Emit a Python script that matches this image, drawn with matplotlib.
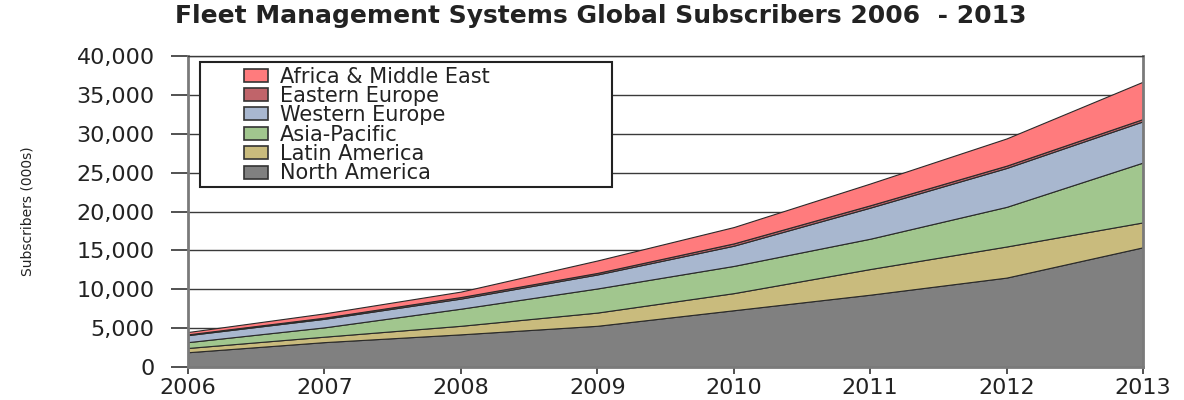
import matplotlib.pyplot as plt
import matplotlib.ticker as mticker
from matplotlib.patches import Rectangle
import numpy as np

years = [2006, 2007, 2008, 2009, 2010, 2011, 2012, 2013]

# subscribers in thousands
north_america = [1900, 3200, 4200, 5300, 7300, 9300, 11500, 15400]
latin_america = [550, 700, 1100, 1700, 2200, 3300, 4000, 3200]
asia_pacific = [750, 1200, 2200, 3100, 3500, 3900, 5100, 7700]
western_europe = [900, 1100, 1300, 1800, 2600, 4000, 5000, 5300]
eastern_europe = [100, 150, 200, 200, 300, 300, 300, 300]
africa_me = [300, 550, 700, 1600, 2100, 2800, 3500, 4800]

labels = ['North America', 'Latin America', 'Asia-Pacific',
          'Western Europe', 'Eastern Europe', 'Africa & Middle East']
colors = ['#808080', '#c9bb7d', '#a1c68e', '#a8b7cf', '#c0646a', '#ff7b7d']

plt.rcParams['font.family'] = ['DejaVu Sans']

fig = plt.figure(figsize=(11.84, 4.0), dpi=100)
ax = fig.add_axes([0.1588, 0.0825, 0.8066, 0.7775])

ax.yaxis.grid(True, color='#3a3a3a', linewidth=1.0)
ax.set_axisbelow(True)

polys = ax.stackplot(years, north_america, latin_america, asia_pacific,
                     western_europe, eastern_europe, africa_me,
                     colors=colors, labels=labels,
                     edgecolor='#2a2a2a', linewidth=0.8)

ax.set_xlim(2006, 2013)
ax.set_ylim(0, 40000)
ax.set_xticks(years)
ax.set_yticks(np.arange(0, 40001, 5000))
ax.yaxis.set_major_formatter(mticker.FuncFormatter(lambda v, p: '{:,.0f}'.format(v)))

ax.tick_params(axis='y', labelsize=16, length=12, width=1.2, color='#333333',
               pad=12, labelcolor='#222222')
ax.tick_params(axis='x', labelsize=16, length=5, width=1.2, color='#333333',
               pad=3, labelcolor='#222222')

for side in ['left', 'bottom', 'right']:
    ax.spines[side].set_color('#7a7a7a')
    ax.spines[side].set_linewidth(2)
ax.spines['top'].set_color('#3a3a3a')
ax.spines['top'].set_linewidth(1.0)

ax.set_ylabel('Subscribers (000s)', fontsize=10, labelpad=30, color='#222222')

# legend box (drawn separately so the entries sit well inside it)
ax.add_patch(Rectangle((0.0126, 0.579), 0.4314, 0.402, transform=ax.transAxes,
                       facecolor='white', edgecolor='#222222', linewidth=1.5,
                       zorder=4, clip_on=False))

handles, labs = ax.get_legend_handles_labels()
leg = ax.legend(handles[::-1], labs[::-1], loc='upper left',
                bbox_to_anchor=(0.0586, 0.966), fontsize=15,
                frameon=False, borderpad=0,
                labelspacing=-0.03, handlelength=1.15, handleheight=0.58,
                handletextpad=0.58, borderaxespad=0)
leg.set_zorder(5)
for h in leg.legend_handles:
    h.set_edgecolor('#333333')
    h.set_linewidth(1.2)
for t in leg.get_texts():
    t.set_color('#222222')

fig.text(0.507, 0.96, 'Fleet Management Systems Global Subscribers 2006  - 2013',
         ha='center', va='center', fontsize=18, fontweight='bold', color='#222222')

fig.savefig('out.png', dpi=100)
